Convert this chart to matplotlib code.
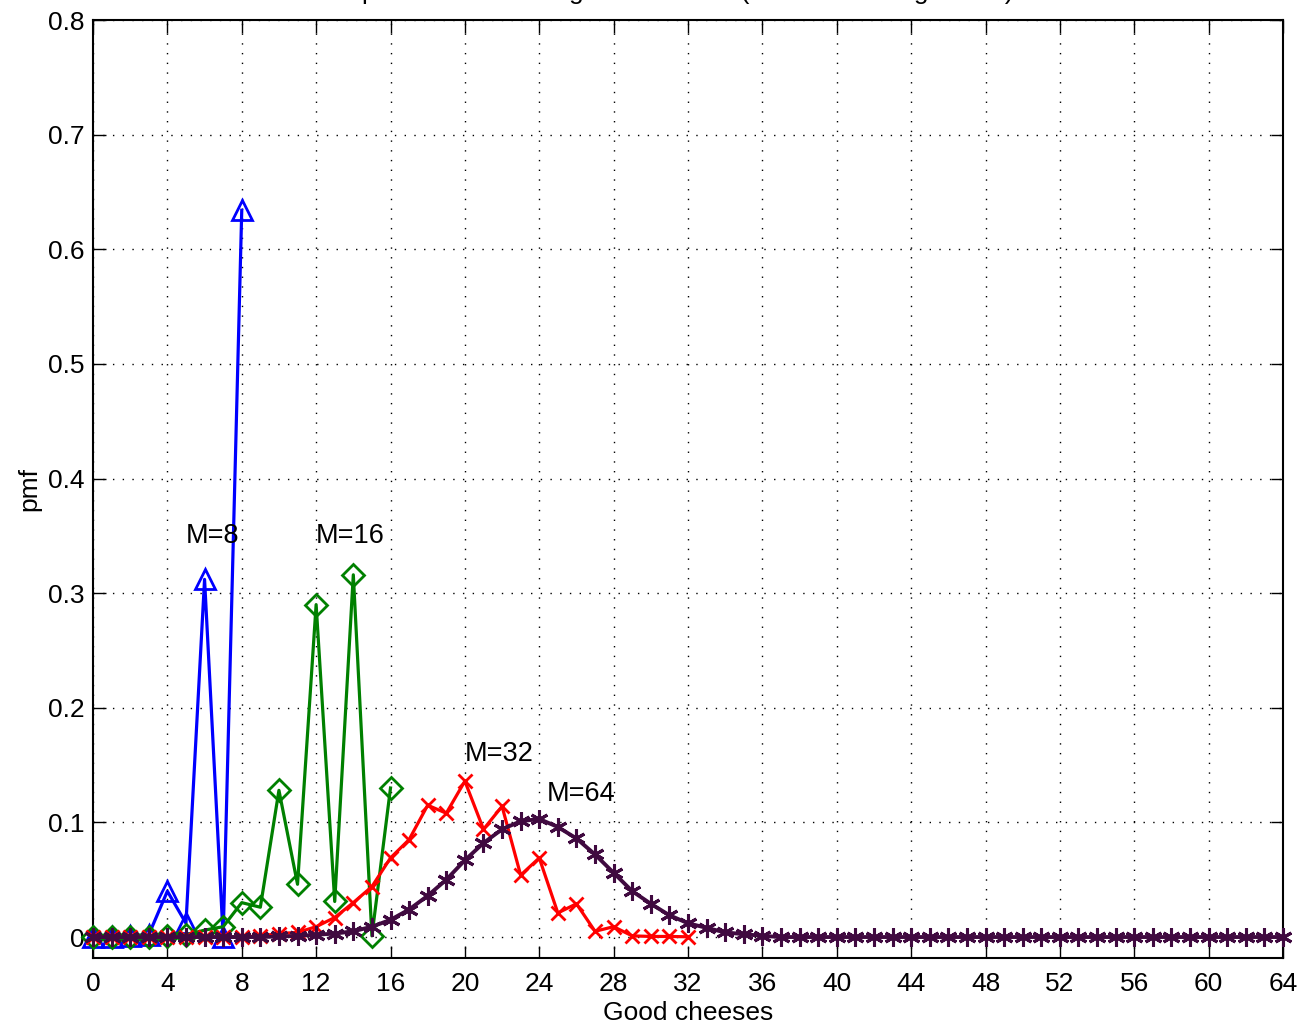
import matplotlib.pyplot as plt
import numpy as np

plt.rcParams['font.family'] = ['Liberation Sans', 'DejaVu Sans']

# pmf for M = 8 cheeses
x8 = np.arange(0, 9)
p8 = [0.0, 0.0, 0.001, 0.002, 0.04, 0.012, 0.312, 0.0, 0.634]

# M = 16
x16 = np.arange(0, 17)
p16 = [0.0, 0.0, 0.0, 0.0, 0.001, 0.002, 0.006, 0.009, 0.030, 0.026,
       0.128, 0.046, 0.290, 0.031, 0.316, 0.001, 0.130]

# M = 32
x32 = np.arange(0, 33)
p32 = [0.0, 0.0, 0.0, 0.0, 0.0, 0.0, 0.0, 0.0, 0.0, 0.001,
       0.003, 0.004, 0.009, 0.017, 0.030, 0.044, 0.069, 0.085, 0.115, 0.108,
       0.136, 0.094, 0.114, 0.054, 0.069, 0.021, 0.029, 0.005, 0.009, 0.001,
       0.0005, 0.0005, 0.0002]

# M = 64
x64 = np.arange(0, 65)
p64 = [0.0] * 10 + [0.0005, 0.001, 0.002, 0.003, 0.005, 0.009, 0.015, 0.024,
       0.036, 0.050, 0.067, 0.082, 0.094, 0.101, 0.103, 0.096, 0.086, 0.072,
       0.056, 0.040, 0.029, 0.019, 0.012, 0.008, 0.004, 0.0025, 0.001] + [0.0] * 28

labels = ['M=8', 'M=16', 'M=32', 'M=64']
label_x = [5.0, 12.0, 20.0, 24.4]
label_y = [0.35, 0.35, 0.16, 0.125]

fig = plt.figure(figsize=(13.02, 10.27), dpi=100)
ax = fig.add_axes([93 / 1302, 1 - 958 / 1027, 1190 / 1302, 938 / 1027])

fs = 19
mew = 2
ax.plot(x8, p8, color='#0000ff', lw=2.3, marker='^', ms=15, mfc='none', mew=mew, clip_on=False, zorder=3)
ax.plot(x16, p16, color='#008000', lw=2.3, marker='D', ms=11, mfc='none', mew=mew, clip_on=False, zorder=3)
ax.plot(x32, p32, color='#ff0000', lw=2.3, marker='x', ms=10, mew=mew, clip_on=False, zorder=3)
ax.plot(x64, p64, color='#400a40', lw=2.8, marker=(6, 2, 0), ms=13, mew=2.2, clip_on=False, zorder=4)

for t, tx, ty in zip(labels, label_x, label_y):
    ax.text(tx, ty, t, fontsize=fs + 0.5, ha='left', va='center')

ax.set_xlim(0, 64)
ax.set_ylim(-0.0183, 0.8)
ax.set_xticks(np.arange(0, 65, 4))
ax.set_yticks(np.arange(0, 0.81, 0.1))
ax.set_yticklabels(['0', '0.1', '0.2', '0.3', '0.4', '0.5', '0.6', '0.7', '0.8'])
ax.tick_params(direction='in', length=9, width=1, top=True, right=True, labelsize=fs)
ax.tick_params(axis='x', pad=10)
ax.tick_params(axis='y', pad=6)
ax.grid(True, color='black', linestyle=(0, (1, 6)), linewidth=1)
for s in ax.spines.values():
    s.set_linewidth(1.5)

ax.set_xlabel('Good cheeses', fontsize=fs, labelpad=4)
ax.set_ylabel('pmf', fontsize=fs, labelpad=5)

# title sits above the visible canvas, only descenders show
fig.text(688 / 1302, 1.001, 'pmf of number of good cheeses (M cheeses of grade A)',
         ha='center', va='baseline', fontsize=fs)

fig.savefig('out.png', dpi=100)
